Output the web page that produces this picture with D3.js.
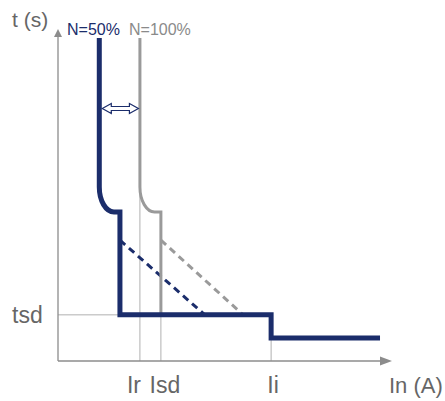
<!DOCTYPE html>
<html><head><meta charset="utf-8">
<script src="https://cdn.jsdelivr.net/npm/d3@7"></script>
<style>body{margin:0;background:#fff}svg{display:block}text{font-family:"Liberation Sans",Arial,Helvetica,sans-serif}</style>
</head><body>
<svg id="c" width="445" height="401"></svg>
<script>
// Schematic tripping curve (abstract units 0-100)
const xTickLabels = ["Ir", "Isd", "Ii"];
const xTickValues = [24.6, 30.9, 64.0];
const yTickLabels = ["tsd"];
const yTickValues = [13.9];
const seriesNames = ["N=50%", "N=100%"];
// [x, y] vertices; vertices 1->2 form the rounded knee
const navyCurve = [[12.4, 97.3], [12.4, 52.4], [16.8, 44.9], [18.6, 44.9], [18.6, 13.9], [64.0, 13.9], [64.0, 6.9], [96.7, 6.9]];
const grayCurve = [[24.6, 97.3], [24.6, 52.4], [29.0, 44.9], [30.9, 44.9], [30.9, 13.9]];
const navyDashed = [[18.6, 36.4], [44.1, 13.9]];
const grayDashed = [[30.9, 36.4], [55.6, 13.9]];

const NAVY = "#1b2d6b", GRAY = "#9a9a9a", AXIS = "#8c8c8c", THIN = "#b0b0b0", TXT = "#666";
const svg = d3.select("#c");
const x = d3.scaleLinear().domain([0, 100]).range([58, 391]);
const y = d3.scaleLinear().domain([0, 100]).range([361, 29]);

// thin guide lines
const g = svg.append("g");
g.append("line").attr("x1", x(0)).attr("x2", x(navyCurve[4][0])).attr("y1", y(yTickValues[0])).attr("y2", y(yTickValues[0])).attr("stroke", THIN).attr("stroke-width", 1);
g.append("line").attr("x1", x(xTickValues[0])).attr("x2", x(xTickValues[0])).attr("y1", y(grayCurve[1][1])).attr("y2", y(0)).attr("stroke", THIN).attr("stroke-width", 1);
g.append("line").attr("x1", x(xTickValues[1])).attr("x2", x(xTickValues[1])).attr("y1", y(yTickValues[0])).attr("y2", y(0)).attr("stroke", THIN).attr("stroke-width", 1);
g.append("line").attr("x1", x(xTickValues[2])).attr("x2", x(xTickValues[2])).attr("y1", y(navyCurve[6][1])).attr("y2", y(0)).attr("stroke", THIN).attr("stroke-width", 1);

// axes
svg.append("line").attr("x1", x(0)).attr("x2", x(0)).attr("y1", y(0)).attr("y2", y(100) + 6).attr("stroke", AXIS).attr("stroke-width", 1.3);
svg.append("path").attr("d", `M${x(0)-4},${y(100)+8} L${x(0)},${y(100)} L${x(0)+4},${y(100)+8} Z`).attr("fill", AXIS);
svg.append("line").attr("x1", x(0)).attr("x2", x(100) - 8).attr("y1", y(0)).attr("y2", y(0)).attr("stroke", AXIS).attr("stroke-width", 1.3);
svg.append("path").attr("d", `M${x(100)-11},${y(0)-4.5} L${x(100)+1},${y(0)} L${x(100)-11},${y(0)+4.5} Z`).attr("fill", AXIS);

function curvePath(pts) {
  const p = d3.path();
  p.moveTo(x(pts[0][0]), y(pts[0][1]));
  p.lineTo(x(pts[1][0]), y(pts[1][1]));
  const x0 = x(pts[1][0]), y0 = y(pts[1][1]), x1 = x(pts[2][0]), y1 = y(pts[2][1]);
  p.bezierCurveTo(x0, y0 + (y1 - y0) * 0.55, x0 + (x1 - x0) * 0.45, y1, x1, y1);
  for (let i = 3; i < pts.length; i++) p.lineTo(x(pts[i][0]), y(pts[i][1]));
  return p.toString();
}
const line = d3.line().x(d => x(d[0])).y(d => y(d[1]));

svg.append("path").attr("d", line(grayDashed)).attr("fill", "none").attr("stroke", GRAY).attr("stroke-width", 3).attr("stroke-dasharray", "7,5");
svg.append("path").attr("d", line(navyDashed)).attr("fill", "none").attr("stroke", NAVY).attr("stroke-width", 3).attr("stroke-dasharray", "7,5");
svg.append("path").attr("d", curvePath(grayCurve)).attr("fill", "none").attr("stroke", GRAY).attr("stroke-width", 3);
svg.append("path").attr("d", curvePath(navyCurve)).attr("fill", "none").attr("stroke", NAVY).attr("stroke-width", 5).attr("stroke-linejoin", "miter");

// double arrow between the two curves
const ax0 = x(navyCurve[0][0]) + 3, ax1 = x(grayCurve[0][0]) - 1.5, ay = 108.5;
svg.append("path")
  .attr("d", `M${ax0},${ay} L${ax0+9},${ay-5} L${ax0+9},${ay-2} L${ax1-9},${ay-2} L${ax1-9},${ay-5} L${ax1},${ay} L${ax1-9},${ay+5} L${ax1-9},${ay+2} L${ax0+9},${ay+2} L${ax0+9},${ay+5} Z`)
  .attr("fill", "#fff").attr("stroke", NAVY).attr("stroke-width", 1.2).attr("stroke-linejoin", "miter");

// labels
svg.append("text").attr("x", 12).attr("y", 27).attr("font-size", 21).attr("fill", TXT).text("t (s)");
svg.append("text").attr("x", 67).attr("y", 35).attr("font-size", 16).attr("fill", NAVY).text(seriesNames[0]);
svg.append("text").attr("x", 129).attr("y", 35).attr("font-size", 16).attr("fill", "#8a8a8a").text(seriesNames[1]);
svg.append("text").attr("x", 12).attr("y", 323).attr("font-size", 23).attr("fill", TXT).text(yTickLabels[0]);
const lblOffset = [-6, 4, 2];
xTickLabels.forEach((l, i) => {
  svg.append("text").attr("x", x(xTickValues[i]) + lblOffset[i]).attr("y", 393).attr("text-anchor", "middle").attr("font-size", 23).attr("fill", TXT).text(l);
});
svg.append("text").attr("x", 389).attr("y", 393).attr("font-size", 22).attr("fill", TXT).text("In (A)");
</script>
</body></html>
